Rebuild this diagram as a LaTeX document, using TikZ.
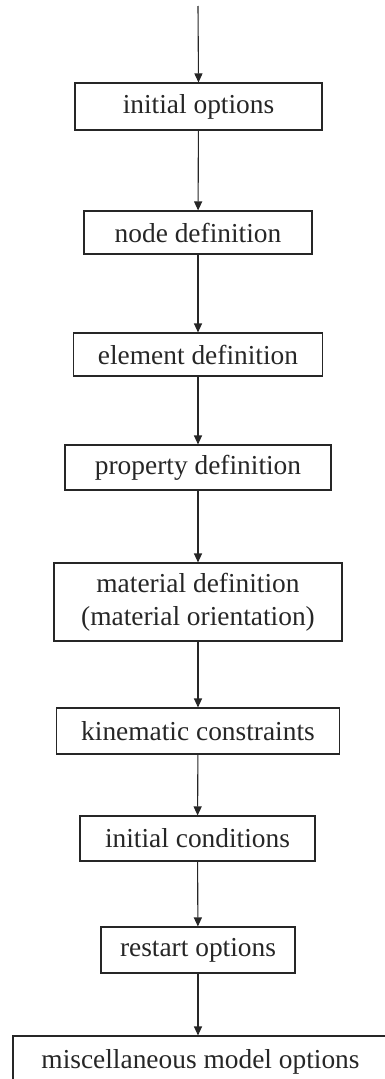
\documentclass[tikz,border=0pt]{standalone}
\usepackage{fontspec}
\setmainfont{Liberation Serif}
\usetikzlibrary{arrows.meta}
\begin{document}
\begin{tikzpicture}[x=1pt,y=-1pt,
  stagebox/.style={draw=black!85, line width=1.1pt, inner sep=0pt, align=center,
    font=\fontsize{27.4}{33}\selectfont, text=black!85},
  flow/.style={draw=black!85, line width=1.1pt, -{Triangle[length=9pt,width=8pt]}}]
\useasboundingbox (0,0) rectangle (385,1079);
\clip (0,0) rectangle (385,1079);
\coordinate (start) at (198,6);
\node[stagebox, minimum width=247pt, minimum height=47pt] (n1) at (198.5,106.5) {initial options};
\node[stagebox, minimum width=228pt, minimum height=43pt] (n2) at (198,232.5) {node definition};
\node[stagebox, minimum width=249pt, minimum height=43pt] (n3) at (198,354.5) {element definition};
\node[stagebox, minimum width=266pt, minimum height=45pt] (n4) at (198,467.5) {property definition};
\node[stagebox, minimum width=288pt, minimum height=78pt] (n5) at (198,602) {material definition\\(material orientation)};
\node[stagebox, minimum width=283pt, minimum height=46pt] (n6) at (198,731) {kinematic constraints};
\node[stagebox, minimum width=235pt, minimum height=45pt] (n7) at (197.5,838.5) {initial conditions};
\node[stagebox, minimum width=194pt, minimum height=46pt] (n8) at (198,950) {restart options};
\node[stagebox, minimum width=375pt, minimum height=52pt] (n9) at (200.5,1062) {miscellaneous model options};
\draw[flow] (start) -- (n1.north);
\draw[flow] (n1) -- (n2);
\draw[flow] (n2) -- (n3);
\draw[flow] (n3) -- (n4);
\draw[flow] (n4) -- (n5);
\draw[flow] (n5) -- (n6);
\draw[flow] (n6) -- (n7);
\draw[flow] (n7) -- (n8);
\draw[flow] (n8.south) -- (n8.south |- n9.north);
\end{tikzpicture}
\end{document}
